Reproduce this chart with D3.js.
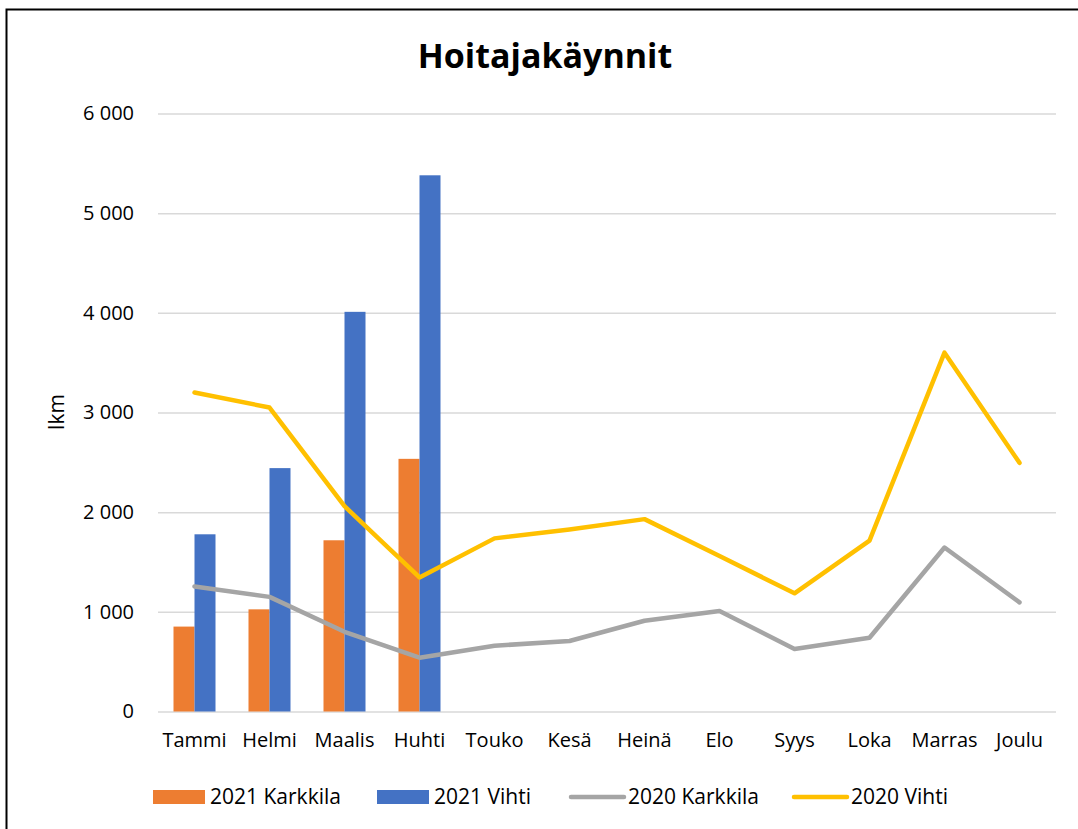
<!DOCTYPE html>
<html>
<head>
<meta charset="utf-8">
<script src="https://cdn.jsdelivr.net/npm/d3@7"></script>
<style>
  body { margin: 0; background: #fff; }
  svg { display: block; font-family: "Open Sans", sans-serif; }
</style>
</head>
<body>
<div id="chart"></div>
<script>
let months = ['Tammi', 'Helmi', 'Maalis', 'Huhti', 'Touko', 'Kesä', 'Heinä', 'Elo', 'Syys', 'Loka', 'Marras', 'Joulu'];
let karkkila2021 = [852, 1025, 1718, 2535];
let vihti2021 = [1778, 2442, 4010, 5380];
let karkkila2020 = [1255, 1150, 800, 540, 660, 707, 911, 1008, 627, 740, 1645, 1095];
let vihti2020 = [3200, 3050, 2060, 1345, 1737, 1827, 1930, 1560, 1186, 1715, 3600, 2495];
let yTicks = [0, 1000, 2000, 3000, 4000, 5000, 6000];

let buildChart = () =>
{
	let width = 1078;
	let height = 829;

	let svg = d3.select('#chart')
	  .append('svg')
	  .attr('width', width)
	  .attr('height', height);

	// frame (only left and top visible in the picture)
	svg.append('rect')
	   .attr('x', 6.5)
	   .attr('y', 9.5)
	   .attr('width', 1100)
	   .attr('height', 900)
	   .style('fill', 'none')
	   .style('stroke', 'black')
	   .style('stroke-width', 2);

	let x = d3.scaleBand()
	          .domain(months)
	          .range([157, 1057]);

	let y = d3.scaleLinear()
	          .domain([0, 6000])
	          .range([711.5, 113.5]);

	let fmt = d3.formatLocale({decimal: ',', thousands: ' ', grouping: [3], currency: ['', '']}).format(',');

	// gridlines + tick labels
	let yAxis = d3.axisLeft(y)
	              .tickValues(yTicks)
	              .tickSize(-(1056 - 158))
	              .tickPadding(24)
	              .tickFormat(fmt);

	let gy = svg.append('g')
	            .attr('transform', 'translate(158,0)')
	            .call(yAxis);
	gy.select('.domain').remove();
	gy.selectAll('.tick line')
	  .style('stroke', '#d9d9d9')
	  .style('stroke-width', 1.5);
	gy.selectAll('.tick text')
	  .style('font-size', '20px')
	  .style('font-family', '"Open Sans", sans-serif')
	  .style('fill', '#000');

	// category labels
	let xAxis = d3.axisBottom(x).tickSize(0).tickPadding(0);
	let gx = svg.append('g')
	            .attr('transform', 'translate(0,733)')
	            .call(xAxis);
	gx.select('.domain').remove();
	gx.selectAll('.tick text')
	  .attr('dy', '0.71em')
	  .style('font-size', '20px')
	  .style('font-family', '"Open Sans", sans-serif')
	  .style('fill', '#000');

	let barW = 21;

	svg.selectAll('rect.k21')
	   .data(karkkila2021)
	   .enter()
	   .append('rect')
	   .attr('class', 'k21')
	   .attr('x', (d, i) => x(months[i]) + x.bandwidth() / 2 - barW)
	   .attr('y', d => y(d))
	   .attr('width', barW)
	   .attr('height', d => y(0) - y(d))
	   .style('fill', '#ed7d31');

	svg.selectAll('rect.v21')
	   .data(vihti2021)
	   .enter()
	   .append('rect')
	   .attr('class', 'v21')
	   .attr('x', (d, i) => x(months[i]) + x.bandwidth() / 2)
	   .attr('y', d => y(d))
	   .attr('width', barW)
	   .attr('height', d => y(0) - y(d))
	   .style('fill', '#4472c4');

	let line = d3.line()
	             .x((d, i) => x(months[i]) + x.bandwidth() / 2)
	             .y(d => y(d));

	svg.append('path')
	   .datum(karkkila2020)
	   .attr('d', line)
	   .style('fill', 'none')
	   .style('stroke', '#a5a5a5')
	   .style('stroke-width', 4.5)
	   .style('stroke-linejoin', 'round')
	   .style('stroke-linecap', 'round');

	svg.append('path')
	   .datum(vihti2020)
	   .attr('d', line)
	   .style('fill', 'none')
	   .style('stroke', '#ffc000')
	   .style('stroke-width', 4.5)
	   .style('stroke-linejoin', 'round')
	   .style('stroke-linecap', 'round');

	// title
	svg.append('text')
	   .attr('x', 545)
	   .attr('y', 68)
	   .attr('text-anchor', 'middle')
	   .style('font-size', '34px')
	   .style('font-weight', 'bold')
	   .text('Hoitajakäynnit');

	// y label
	svg.append('text')
	   .attr('transform', 'translate(64,412) rotate(-90)')
	   .attr('text-anchor', 'middle')
	   .style('font-size', '21px')
	   .text('lkm');

	// legend
	let legendItems = [
		{ name: '2021 Karkkila', color: '#ed7d31', type: 'rect', x: 153 },
		{ name: '2021 Vihti', color: '#4472c4', type: 'rect', x: 377 },
		{ name: '2020 Karkkila', color: '#a5a5a5', type: 'line', x: 569 },
		{ name: '2020 Vihti', color: '#ffc000', type: 'line', x: 792 }
	];

	let lg = svg.selectAll('g.legend-item')
	            .data(legendItems)
	            .enter()
	            .append('g')
	            .attr('class', 'legend-item')
	            .attr('transform', d => 'translate(' + d.x + ',797)');

	lg.filter(d => d.type === 'rect')
	  .append('rect')
	  .attr('x', 0)
	  .attr('y', -7)
	  .attr('width', 52)
	  .attr('height', 14)
	  .style('fill', d => d.color);

	lg.filter(d => d.type === 'line')
	  .append('line')
	  .attr('x1', 2)
	  .attr('x2', 55)
	  .attr('y1', 0)
	  .attr('y2', 0)
	  .style('stroke', d => d.color)
	  .style('stroke-width', 4.5)
	  .style('stroke-linecap', 'round');

	lg.append('text')
	  .attr('x', d => d.type === 'rect' ? 57 : 59)
	  .attr('y', 0)
	  .attr('dy', '0.35em')
	  .style('font-size', '21px')
	  .text(d => d.name);
}

buildChart();
</script>
</body>
</html>
